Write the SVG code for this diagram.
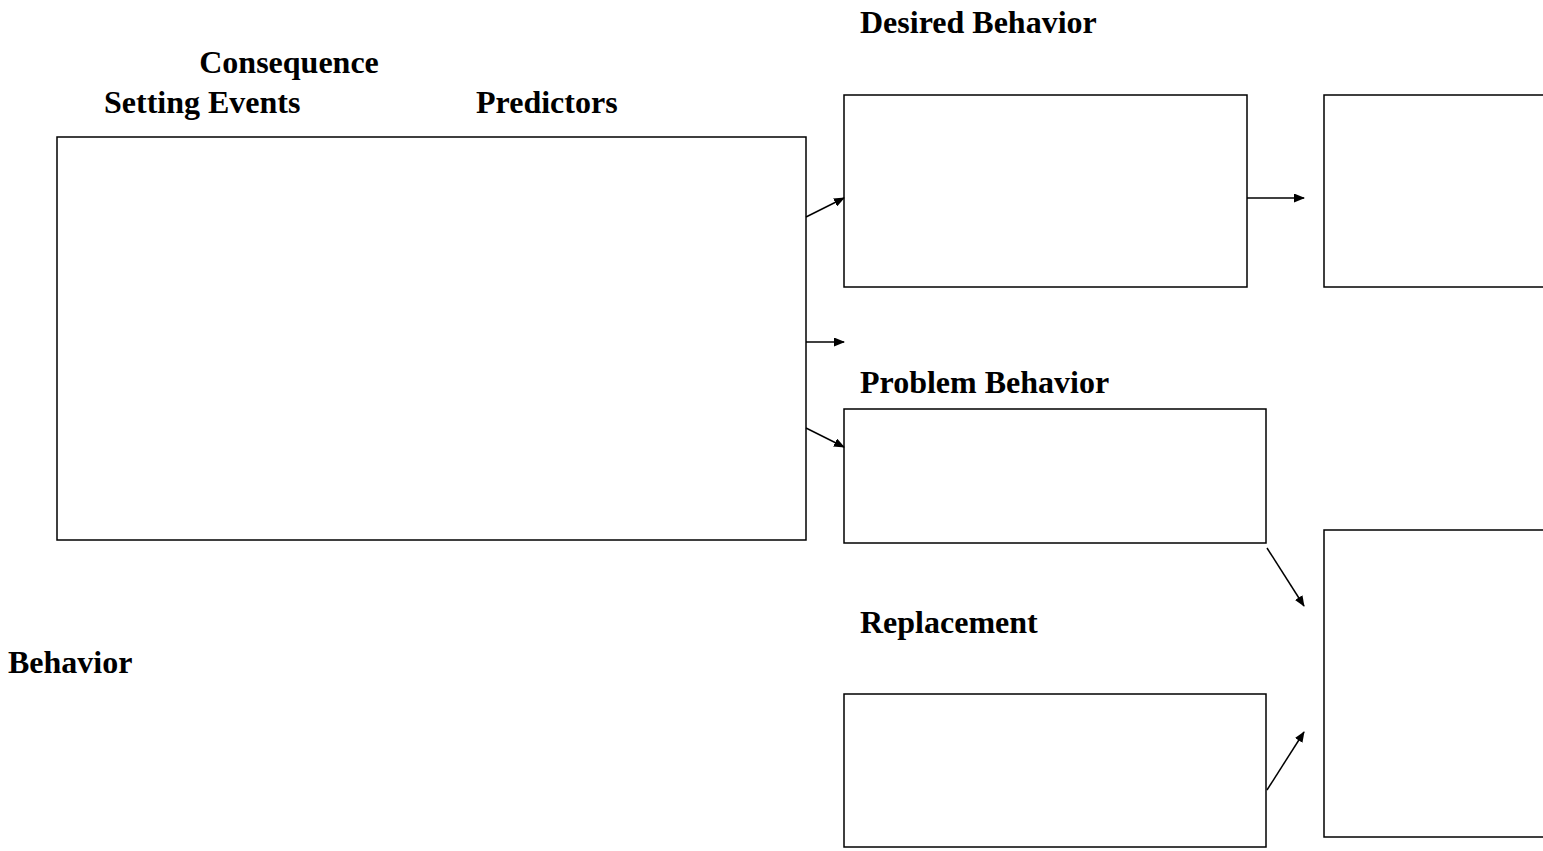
<svg xmlns="http://www.w3.org/2000/svg" width="1543" height="851" viewBox="0 0 1543 851">
<style>
.box{fill:#fff;stroke:#000;stroke-width:1.5}
.lbl{font-family:"Liberation Serif","Times New Roman",serif;font-weight:bold;font-size:32px;fill:#000}
.con{stroke:#000;stroke-width:1.5;fill:none;marker-end:url(#ah)}
</style>
<defs>
<marker id="ah" markerWidth="11" markerHeight="9" refX="10" refY="4.5" orient="auto" markerUnits="userSpaceOnUse">
<path d="M0,0 L11,4.5 L0,9 z" fill="#000"/>
</marker>
</defs>
<rect width="1543" height="851" fill="#fff"/>
<g id="labels">
<text class="lbl" x="860" y="33">Desired Behavior</text>
<text class="lbl" x="289" y="73" text-anchor="middle">Consequence</text>
<text class="lbl" x="104" y="113">Setting Events</text>
<text class="lbl" x="476" y="113">Predictors</text>
<text class="lbl" x="860" y="393">Problem Behavior</text>
<text class="lbl" x="860" y="633">Replacement</text>
<text class="lbl" x="8" y="673">Behavior</text>
</g>
<g id="main"><rect class="box" x="57" y="137" width="749" height="403"/></g>
<g id="desired"><rect class="box" x="844" y="95" width="403" height="192"/></g>
<g id="consequence-top"><rect class="box" x="1324" y="95" width="230" height="192"/></g>
<g id="problem"><rect class="box" x="844" y="409" width="422" height="134"/></g>
<g id="replacement"><rect class="box" x="844" y="694" width="422" height="153"/></g>
<g id="consequence-bottom"><rect class="box" x="1324" y="530" width="230" height="307"/></g>
<g id="connectors">
<line class="con" x1="806" y1="217" x2="844" y2="198"/>
<line class="con" x1="806" y1="342" x2="844" y2="342"/>
<line class="con" x1="806" y1="428" x2="844" y2="447"/>
<line class="con" x1="1247" y1="198" x2="1304" y2="198"/>
<line class="con" x1="1267" y1="548" x2="1304" y2="606"/>
<line class="con" x1="1267" y1="790" x2="1304" y2="732"/>
</g>
</svg>
